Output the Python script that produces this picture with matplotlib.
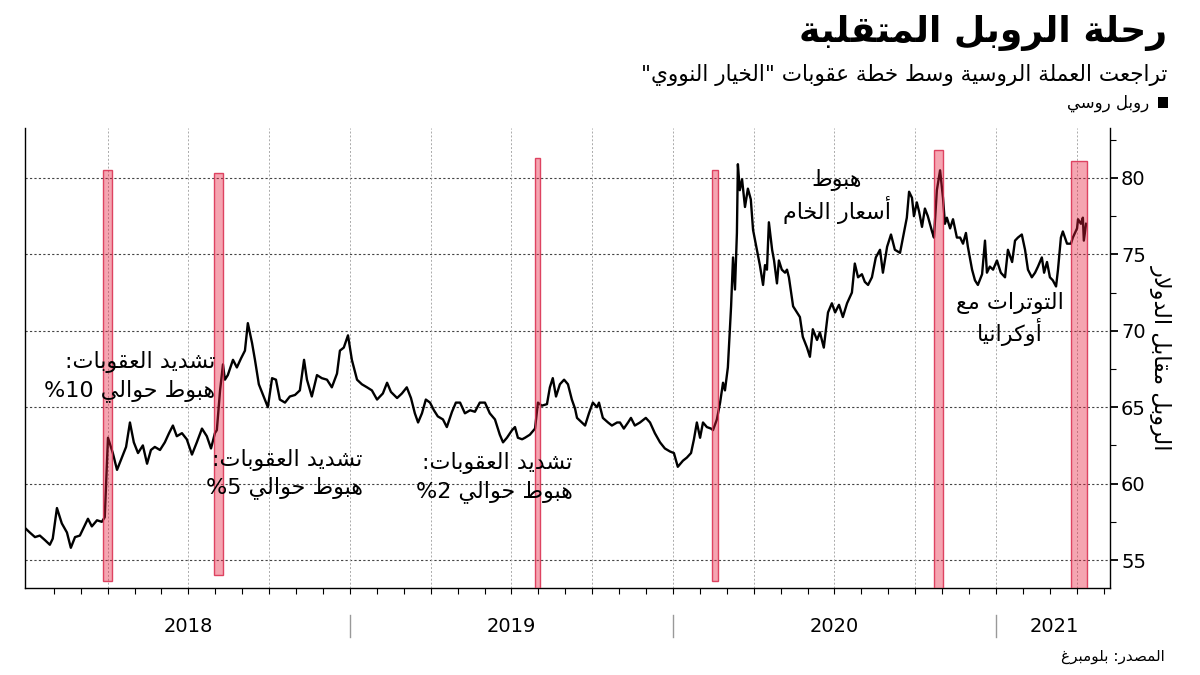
import re
import matplotlib
matplotlib.use("Agg")
import matplotlib.pyplot as plt
from matplotlib.patches import Rectangle

plt.rcParams['font.family'] = ['DejaVu Sans']

# ---- data (decimal year, RUB per USD) ----
years = [
    2017.994, 2018.009, 2018.025, 2018.040, 2018.056, 2018.071, 2018.080, 2018.093, 2018.108, 2018.124,
    2018.136, 2018.149, 2018.164, 2018.180, 2018.189, 2018.201, 2018.217, 2018.232, 2018.241, 2018.251,
    2018.266, 2018.279, 2018.294, 2018.307, 2018.319, 2018.331, 2018.344, 2018.359, 2018.372, 2018.384,
    2018.396, 2018.412, 2018.427, 2018.440, 2018.452, 2018.464, 2018.480, 2018.495, 2018.511, 2018.526,
    2018.542, 2018.557, 2018.570, 2018.582, 2018.588, 2018.598, 2018.607, 2018.613, 2018.622, 2018.638,
    2018.650, 2018.663, 2018.675, 2018.684, 2018.697, 2018.706, 2018.718, 2018.731, 2018.746, 2018.759,
    2018.771, 2018.783, 2018.799, 2018.814, 2018.830, 2018.845, 2018.858, 2018.867, 2018.882, 2018.898,
    2018.913, 2018.929, 2018.944, 2018.960, 2018.969, 2018.981, 2018.994, 2019.006, 2019.022, 2019.037,
    2019.053, 2019.068, 2019.084, 2019.102, 2019.115, 2019.127, 2019.146, 2019.161, 2019.176, 2019.189,
    2019.201, 2019.211, 2019.223, 2019.235, 2019.248, 2019.260, 2019.272, 2019.288, 2019.300, 2019.316,
    2019.328, 2019.341, 2019.356, 2019.372, 2019.387, 2019.402, 2019.418, 2019.433, 2019.449, 2019.464,
    2019.474, 2019.486, 2019.502, 2019.511, 2019.520, 2019.533, 2019.542, 2019.557, 2019.573, 2019.582,
    2019.594, 2019.610, 2019.619, 2019.628, 2019.638, 2019.650, 2019.663, 2019.675, 2019.687, 2019.697,
    2019.703, 2019.718, 2019.728, 2019.740, 2019.752, 2019.765, 2019.771, 2019.783, 2019.799, 2019.811,
    2019.827, 2019.836, 2019.848, 2019.861, 2019.870, 2019.882, 2019.898, 2019.916, 2019.929, 2019.944,
    2019.960, 2019.975, 2019.991, 2020.003, 2020.015, 2020.031, 2020.043, 2020.056, 2020.065, 2020.074,
    2020.084, 2020.093, 2020.105, 2020.118, 2020.124, 2020.136, 2020.146, 2020.155, 2020.161, 2020.170,
    2020.180, 2020.186, 2020.192, 2020.198, 2020.201, 2020.207, 2020.214, 2020.223, 2020.232, 2020.241,
    2020.248, 2020.260, 2020.269, 2020.279, 2020.285, 2020.291, 2020.297, 2020.307, 2020.313, 2020.322,
    2020.328, 2020.337, 2020.347, 2020.353, 2020.359, 2020.372, 2020.384, 2020.393, 2020.402, 2020.415,
    2020.424, 2020.433, 2020.446, 2020.455, 2020.467, 2020.480, 2020.492, 2020.502, 2020.514, 2020.526,
    2020.539, 2020.554, 2020.563, 2020.573, 2020.585, 2020.594, 2020.604, 2020.616, 2020.628, 2020.641,
    2020.650, 2020.663, 2020.675, 2020.687, 2020.703, 2020.715, 2020.724, 2020.731, 2020.740, 2020.746,
    2020.755, 2020.762, 2020.771, 2020.780, 2020.789, 2020.802, 2020.808, 2020.817, 2020.827, 2020.836,
    2020.842, 2020.848, 2020.858, 2020.867, 2020.879, 2020.889, 2020.898, 2020.907, 2020.913, 2020.926,
    2020.935, 2020.944, 2020.957, 2020.966, 2020.972, 2020.981, 2020.991, 2021.003, 2021.015, 2021.028,
    2021.037, 2021.050, 2021.059, 2021.068, 2021.080, 2021.090, 2021.099, 2021.111, 2021.121, 2021.130,
    2021.142, 2021.149, 2021.158, 2021.167, 2021.176, 2021.186, 2021.192, 2021.201, 2021.207, 2021.220,
    2021.232, 2021.238, 2021.251, 2021.254, 2021.263, 2021.269, 2021.272, 2021.279,
]
rub = [
    57.1, 56.8, 56.5, 56.6, 56.3, 56.0, 56.4, 58.4, 57.4, 56.8,
    55.8, 56.5, 56.6, 57.3, 57.7, 57.2, 57.6, 57.5, 57.8, 63.0,
    62.0, 60.9, 61.7, 62.4, 64.0, 62.7, 62.0, 62.5, 61.3, 62.2,
    62.4, 62.2, 62.7, 63.3, 63.8, 63.1, 63.3, 62.9, 61.9, 62.7,
    63.6, 63.1, 62.3, 63.3, 63.5, 66.1, 67.8, 66.8, 67.1, 68.1,
    67.6, 68.2, 68.7, 70.5, 69.2, 68.1, 66.5, 65.8, 65.0, 66.9,
    66.8, 65.5, 65.3, 65.7, 65.8, 66.1, 68.1, 66.8, 65.7, 67.1,
    66.9, 66.8, 66.3, 67.2, 68.7, 68.9, 69.7, 68.1, 66.8, 66.5,
    66.3, 66.1, 65.5, 65.9, 66.6, 66.0, 65.6, 65.9, 66.3, 65.6,
    64.6, 64.0, 64.6, 65.5, 65.3, 64.8, 64.4, 64.2, 63.7, 64.7,
    65.3, 65.3, 64.6, 64.8, 64.7, 65.3, 65.3, 64.6, 64.2, 63.2,
    62.7, 63.0, 63.5, 63.7, 63.0, 62.9, 63.0, 63.2, 63.6, 65.3,
    65.1, 65.2, 66.3, 66.9, 65.7, 66.5, 66.8, 66.5, 65.5, 64.9,
    64.3, 64.0, 63.8, 64.6, 65.3, 65.0, 65.3, 64.3, 64.0, 63.8,
    64.0, 64.0, 63.6, 64.0, 64.3, 63.8, 64.0, 64.3, 64.0, 63.3,
    62.7, 62.3, 62.1, 62.0, 61.1, 61.5, 61.7, 62.0, 62.9, 64.0,
    63.0, 64.0, 63.7, 63.6, 63.5, 64.2, 65.3, 66.6, 66.1, 67.6,
    71.6, 74.8, 72.7, 76.4, 80.9, 79.2, 79.9, 78.1, 79.3, 78.6,
    76.6, 75.3, 74.3, 73.0, 74.3, 74.0, 77.1, 75.3, 74.6, 73.1,
    74.6, 74.0, 73.8, 74.0, 73.5, 71.6, 71.2, 70.9, 69.6, 68.9,
    68.3, 70.1, 69.4, 69.9, 68.9, 71.2, 71.8, 71.2, 71.7, 70.9,
    71.8, 72.5, 74.4, 73.5, 73.7, 73.2, 73.0, 73.5, 74.8, 75.3,
    73.8, 75.5, 76.3, 75.3, 75.1, 76.4, 77.4, 79.1, 78.7, 77.5,
    78.4, 77.8, 76.8, 78.0, 77.5, 76.5, 76.1, 79.2, 80.5, 78.7,
    77.0, 77.4, 76.7, 77.3, 76.1, 76.1, 75.7, 76.4, 75.5, 74.0,
    73.3, 73.0, 73.7, 75.9, 73.8, 74.2, 74.0, 74.6, 73.8, 73.5,
    75.3, 74.5, 75.9, 76.1, 76.3, 75.3, 74.0, 73.5, 73.8, 74.2,
    74.8, 73.8, 74.5, 73.5, 73.3, 72.9, 74.0, 76.1, 76.5, 75.7,
    75.7, 76.1, 76.7, 77.3, 77.0, 77.4, 75.9, 77.0,
]

# sanction / event windows (shaded)
band_start = [2018.235, 2018.579, 2019.573, 2020.121, 2020.808, 2021.232]
band_end = [2018.263, 2018.607, 2019.588, 2020.139, 2020.836, 2021.282]
band_top = [80.5, 80.3, 81.3, 80.5, 81.8, 81.1]
band_bottom = [53.6, 54.0, 53.0, 53.6, 53.0, 53.0]

year_labels = ['2018', '2019', '2020', '2021']
year_centers = [2018.5, 2019.5, 2020.5, 2021.18]
year_breaks = [2019.0, 2020.0, 2021.0]

# ---- simple Arabic shaping (matplotlib has no bidi / joining) ----
_ranges = [(0x621, 0xFE80, 1), (0x622, 0xFE81, 2), (0x623, 0xFE83, 2), (0x624, 0xFE85, 2),
           (0x625, 0xFE87, 2), (0x626, 0xFE89, 4), (0x627, 0xFE8D, 2), (0x628, 0xFE8F, 4),
           (0x629, 0xFE93, 2), (0x62A, 0xFE95, 4), (0x62B, 0xFE99, 4), (0x62C, 0xFE9D, 4),
           (0x62D, 0xFEA1, 4), (0x62E, 0xFEA5, 4), (0x62F, 0xFEA9, 2), (0x630, 0xFEAB, 2),
           (0x631, 0xFEAD, 2), (0x632, 0xFEAF, 2), (0x633, 0xFEB1, 4), (0x634, 0xFEB5, 4),
           (0x635, 0xFEB9, 4), (0x636, 0xFEBD, 4), (0x637, 0xFEC1, 4), (0x638, 0xFEC5, 4),
           (0x639, 0xFEC9, 4), (0x63A, 0xFECD, 4), (0x641, 0xFED1, 4), (0x642, 0xFED5, 4),
           (0x643, 0xFED9, 4), (0x644, 0xFEDD, 4), (0x645, 0xFEE1, 4), (0x646, 0xFEE5, 4),
           (0x647, 0xFEE9, 4), (0x648, 0xFEED, 2), (0x649, 0xFEEF, 2), (0x64A, 0xFEF1, 4)]
FORMS = {chr(c): [chr(s + k) for k in range(n)] for c, s, n in _ranges}
LAMALEF = {'\u0622': 0xFEF5, '\u0623': 0xFEF7, '\u0625': 0xFEF9, '\u0627': 0xFEFB}


def shape_line(s):
    out = []
    i = 0
    while i < len(s):
        c = s[i]
        if c not in FORMS:
            out.append(c)
            i += 1
            continue
        prev = s[i - 1] if i > 0 else ''
        p = prev in FORMS and len(FORMS[prev]) == 4
        if c == '\u0644' and i + 1 < len(s) and s[i + 1] in LAMALEF:
            out.append(chr(LAMALEF[s[i + 1]] + (1 if p else 0)))
            i += 2
            continue
        nxt = s[i + 1] if i + 1 < len(s) else ''
        f = FORMS[c]
        q = len(f) == 4 and nxt in FORMS
        if p and q:
            g = f[3]
        elif p:
            g = f[1] if len(f) > 1 else f[0]
        elif q:
            g = f[2]
        else:
            g = f[0]
        out.append(g)
        i += 1
    shaped = ''.join(out)
    runs = re.findall(r'[0-9]+|[^0-9]+', shaped)
    return ''.join(r if r.isdigit() else r[::-1] for r in reversed(runs))


def ar(s):
    return '\n'.join(shape_line(l) for l in s.split('\n'))


# ---- figure ----
fig = plt.figure(figsize=(12, 6.75), dpi=100)
ax = fig.add_axes([0.0208, 0.1289, 0.9042, 0.6815])

ax.plot(years, rub, color='black', lw=1.7, zorder=3)
ax.bar(band_start, [t - b for t, b in zip(band_top, band_bottom)],
       width=[e - s for s, e in zip(band_start, band_end)], bottom=band_bottom,
       align='edge', facecolor=(0.9, 0.12, 0.24, 0.4),
       edgecolor=(0.86, 0.2, 0.33, 0.9), linewidth=1.0, zorder=4)

ax.set_xlim(2017.994, 2021.353)
ax.set_ylim(53.17, 83.27)

# grid
for v in range(55, 85, 5):
    ax.axhline(v, color='#444444', lw=0.8, ls=(0, (2, 2)), zorder=1)
for q in range(1, 14):
    ax.axvline(2018 + q / 4, color='#aaaaaa', lw=0.7, ls=(0, (2, 2)), zorder=1)

# axes styling
ax.spines['top'].set_visible(False)
for sp in ['left', 'right', 'bottom']:
    ax.spines[sp].set_color('black')
    ax.spines[sp].set_linewidth(1.0)
ax.yaxis.tick_right()
ax.set_yticks(range(55, 85, 5))
ax.set_yticks([57.5 + 5 * k for k in range(6)], minor=True)
ax.tick_params(axis='y', which='major', length=6, width=1.3, labelsize=14, pad=2)
ax.tick_params(axis='y', which='minor', length=4, width=0.8)
ax.set_xticks([])
ax.set_xticks([2018 + m / 12 for m in range(1, 41)], minor=True)
ax.tick_params(axis='x', which='minor', length=4, width=0.8, labelbottom=False)

# year labels and separators below the axis
tr = ax.get_xaxis_transform()
for yb in year_breaks:
    ax.plot([yb, yb], [-0.059, -0.107], transform=tr, color='#999999', lw=1, clip_on=False)
for lab, xc in zip(year_labels, year_centers):
    ax.text(xc, -0.083, lab, transform=tr, ha='center', va='center', fontsize=14)

# y label on the right
ax.text(1.047, 0.5, ar('الروبل مقابل الدولار'), transform=ax.transAxes,
        rotation=270, ha='center', va='center', fontsize=16)

# annotations
ann_kw = dict(fontsize=16, zorder=5, linespacing=1.35)
ax.text(2018.582, 67.0, ar('تشديد العقوبات:\nهبوط حوالي 10%'), ha='right', va='center',
        multialignment='right', **ann_kw)
ax.text(2019.040, 60.63, ar('تشديد العقوبات:\nهبوط حوالي 5%'), ha='right', va='center',
        multialignment='right', **ann_kw)
ax.text(2019.690, 60.4, ar('تشديد العقوبات:\nهبوط حوالي 2%'), ha='right', va='center',
        multialignment='right', **ann_kw)
ax.text(2020.508, 78.79, ar('هبوط\nأسعار الخام'), ha='center', va='center',
        multialignment='center', fontsize=16, zorder=5, linespacing=1.2)
ax.text(2021.043, 70.77, ar('التوترات مع\nأوكرانيا'), ha='center', va='center',
        multialignment='center', fontsize=16, zorder=5, linespacing=1.2)

# titles, legend, source
fig.text(0.973, 0.951, ar('رحلة الروبل المتقلبة'), ha='right', va='center',
         fontsize=26, fontweight='bold')
fig.text(0.973, 0.889, ar('تراجعت العملة الروسية وسط خطة عقوبات "الخيار النووي"'),
         ha='right', va='center', fontsize=15.5)
fig.patches.append(Rectangle((0.9650, 0.840), 0.0085, 0.0163, transform=fig.transFigure,
                             facecolor='black', edgecolor='none'))
fig.text(0.958, 0.847, ar('روبل روسي'), ha='right', va='center', fontsize=12)
fig.text(0.971, 0.027, ar('المصدر: بلومبرغ'), ha='right', va='center', fontsize=11)

fig.savefig('out.png', dpi=100)
